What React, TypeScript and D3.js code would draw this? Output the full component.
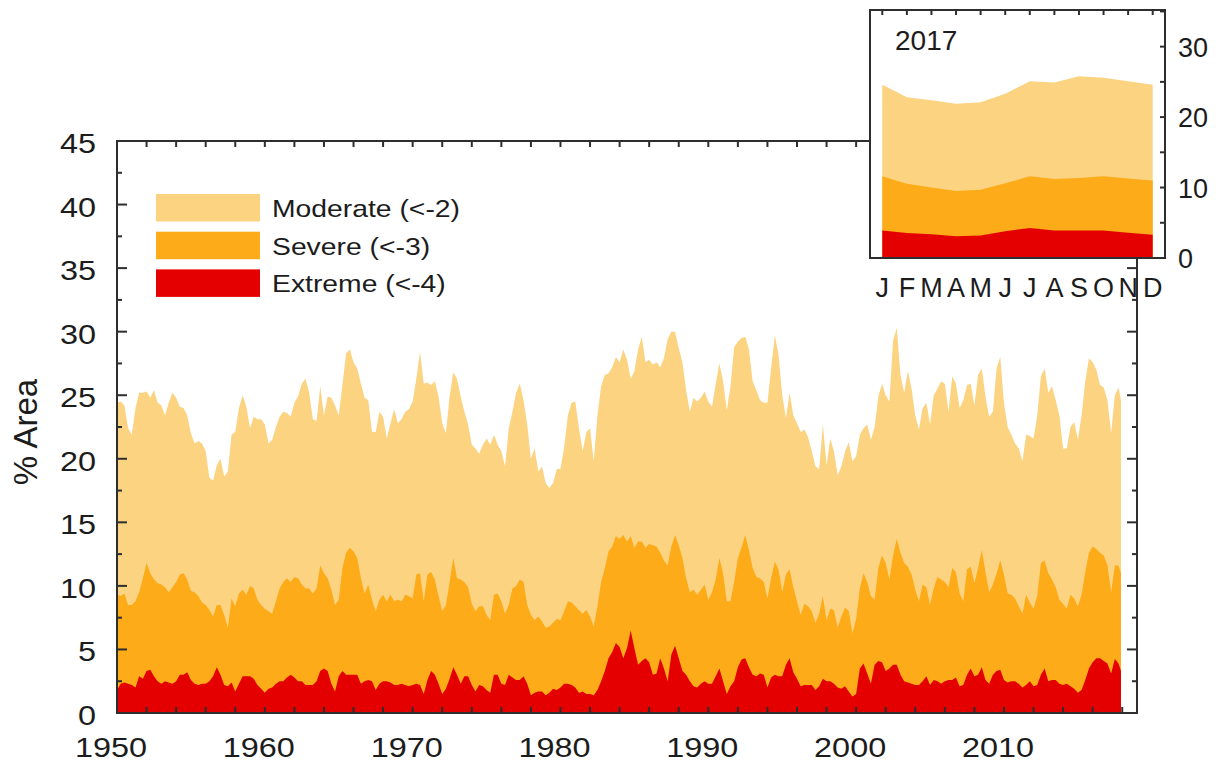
import React from "react";
import * as d3 from "d3";

// % area in drought, quarterly (Jan, Apr, Jul, Oct), 1950 - 2017
const moderate = [
  24.4, 24.5, 24.2, 22.4, 21.9, 24.0, 25.2, 25.2, 25.3, 24.8, 25.4, 24.4,
  24.2, 23.4, 24.4, 25.2, 24.8, 24.1, 24.0, 23.4, 22.0, 21.2, 21.4, 21.2,
  20.6, 18.5, 18.3, 19.5, 20.0, 18.6, 19.0, 21.9, 22.1, 24.0, 25.0, 24.1,
  22.4, 23.3, 23.1, 23.1, 22.7, 21.2, 21.5, 22.5, 23.3, 23.7, 23.6, 23.3,
  24.4, 24.9, 25.9, 26.3, 25.2, 23.1, 23.0, 25.7, 23.4, 24.9, 24.8, 24.2,
  23.4, 25.8, 28.3, 28.6, 27.6, 27.1, 25.9, 24.8, 24.6, 22.1, 22.1, 23.7,
  23.3, 21.6, 22.8, 23.9, 22.8, 23.1, 23.7, 23.9, 24.5, 26.3, 28.4, 25.9,
  26.0, 25.8, 26.1, 24.9, 22.8, 22.0, 24.9, 26.8, 26.3, 24.9, 23.7, 22.7,
  21.1, 20.8, 20.4, 21.1, 21.6, 21.1, 21.9, 21.1, 20.6, 19.4, 22.4, 23.7,
  25.2, 25.9, 24.6, 22.7, 20.0, 20.8, 19.0, 19.4, 18.1, 17.7, 18.1, 19.2,
  19.2, 20.9, 23.4, 24.4, 24.5, 22.4, 20.6, 22.1, 22.4, 19.8, 23.4, 25.7,
  26.6, 26.7, 27.2, 28.0, 27.6, 28.6, 27.8, 26.3, 26.9, 28.6, 29.6, 27.6,
  27.8, 27.4, 27.6, 27.2, 27.9, 29.4, 30.0, 30.0, 28.7, 27.6, 25.4, 23.7,
  24.8, 24.5, 24.8, 25.3, 24.5, 24.1, 25.9, 27.5, 26.1, 23.8, 25.7, 28.8,
  29.2, 29.5, 29.6, 28.6, 26.1, 25.4, 24.6, 24.4, 24.4, 27.1, 29.7, 28.2,
  25.0, 23.2, 25.2, 23.4, 22.8, 22.1, 22.3, 21.7, 20.6, 19.4, 19.2, 22.7,
  19.5, 21.6, 20.6, 18.7, 19.4, 20.6, 21.3, 19.8, 20.2, 21.9, 22.4, 22.7,
  21.5, 22.5, 24.9, 25.9, 25.0, 24.5, 29.3, 30.3, 26.6, 25.2, 26.9, 25.5,
  23.4, 22.3, 24.0, 24.4, 22.7, 25.0, 25.5, 26.1, 25.9, 23.7, 26.5, 25.9,
  24.0, 24.6, 25.8, 25.9, 24.2, 26.6, 27.1, 24.9, 23.3, 23.7, 27.1, 28.0,
  24.4, 22.5, 21.9, 21.2, 20.8, 19.8, 21.9, 21.8, 21.6, 23.4, 26.5, 27.1,
  25.2, 25.7, 24.6, 23.4, 20.8, 20.8, 22.5, 22.9, 21.5, 23.4, 26.1, 27.9,
  27.6, 27.0, 25.8, 25.6, 24.6, 22.0, 25.0, 25.6,
];

const severe = [
  9.3, 9.2, 9.4, 8.5, 8.5, 8.8, 9.5, 10.6, 11.8, 11.0, 10.5, 10.2,
  10.1, 9.9, 9.5, 9.9, 10.3, 10.9, 11.0, 10.5, 9.6, 9.5, 9.2, 8.7,
  8.5, 8.1, 7.6, 8.5, 8.5, 7.7, 6.7, 9.0, 8.4, 9.4, 9.7, 9.3,
  10.0, 9.8, 8.9, 8.5, 8.2, 8.0, 7.8, 8.8, 9.8, 10.3, 10.6, 10.3,
  10.7, 10.6, 10.1, 9.8, 9.8, 9.4, 9.8, 11.6, 11.0, 10.6, 9.7, 8.5,
  8.9, 11.4, 12.6, 13.0, 12.7, 12.2, 10.6, 9.4, 10.1, 8.9, 8.0, 8.9,
  9.3, 8.8, 9.3, 8.8, 8.9, 8.8, 9.3, 9.2, 9.0, 10.9, 11.0, 8.8,
  10.9, 11.1, 10.5, 9.2, 8.0, 8.5, 10.3, 12.2, 10.6, 10.5, 10.3, 9.9,
  8.6, 8.0, 8.4, 8.4, 7.7, 7.3, 9.3, 9.4, 8.8, 7.8, 8.5, 9.8,
  10.0, 10.5, 10.3, 8.5, 7.7, 7.3, 7.6, 7.2, 6.7, 6.8, 7.1, 7.4,
  7.3, 8.0, 8.8, 8.7, 8.4, 8.1, 7.8, 8.1, 7.6, 6.8, 8.4, 10.3,
  11.4, 12.7, 13.1, 13.9, 13.7, 14.0, 13.5, 13.9, 13.0, 13.5, 13.5, 13.0,
  13.3, 13.2, 13.1, 12.6, 12.0, 11.6, 13.1, 14.0, 13.2, 12.2, 10.6, 9.5,
  9.7, 9.3, 9.7, 10.1, 8.9, 9.5, 10.5, 12.2, 11.0, 8.8, 8.8, 10.3,
  12.2, 13.0, 14.0, 12.8, 11.4, 10.7, 10.6, 10.3, 9.0, 10.6, 11.9, 11.3,
  9.5, 10.9, 11.3, 9.9, 8.8, 7.7, 8.6, 8.4, 8.0, 7.1, 7.8, 9.2,
  7.3, 8.2, 8.1, 6.7, 7.6, 8.3, 8.0, 6.3, 7.4, 9.8, 11.0, 10.3,
  9.2, 8.9, 11.4, 12.4, 11.8, 10.5, 12.4, 13.7, 12.6, 11.8, 11.5, 10.9,
  9.7, 8.8, 10.1, 9.9, 8.5, 9.8, 10.7, 10.5, 10.3, 9.9, 11.4, 11.1,
  9.4, 8.8, 11.3, 11.5, 10.2, 11.4, 12.8, 11.1, 9.5, 10.1, 11.0, 12.0,
  10.9, 9.4, 9.3, 9.0, 8.4, 7.8, 9.3, 8.7, 8.2, 9.2, 11.8, 12.0,
  11.0, 10.5, 9.9, 8.9, 8.6, 8.2, 9.3, 9.0, 8.4, 9.3, 11.1, 12.6,
  13.1, 12.9, 12.6, 12.4, 11.6, 9.5, 11.6, 11.6,
];

const extreme = [
  1.8, 2.3, 2.4, 2.3, 2.2, 2.0, 2.9, 2.7, 3.3, 3.4, 2.9, 2.5,
  2.3, 2.5, 2.4, 2.3, 2.5, 3.0, 3.0, 3.2, 2.6, 2.3, 2.2, 2.3,
  2.3, 2.5, 2.9, 3.6, 3.0, 2.2, 2.1, 2.4, 1.7, 2.3, 2.9, 2.9,
  2.9, 2.7, 2.2, 1.9, 1.6, 1.9, 2.0, 2.3, 2.5, 2.5, 2.8, 3.0,
  2.8, 2.5, 2.5, 2.2, 2.2, 2.2, 2.5, 3.3, 3.5, 3.3, 2.3, 1.7,
  2.9, 3.3, 3.0, 3.0, 3.0, 3.0, 2.3, 2.5, 2.6, 2.5, 1.8, 2.3,
  2.5, 2.5, 2.4, 2.2, 2.2, 2.3, 2.2, 2.1, 2.2, 2.3, 2.2, 1.5,
  2.6, 3.3, 3.0, 2.3, 1.5, 1.9, 2.7, 3.6, 3.0, 2.3, 2.9, 2.9,
  2.2, 1.7, 2.2, 2.1, 1.8, 1.6, 3.0, 3.0, 2.3, 2.2, 3.0, 2.8,
  2.6, 2.6, 2.9, 2.3, 1.4, 1.6, 1.7, 1.7, 1.4, 1.6, 1.9, 1.8,
  2.0, 2.3, 2.3, 2.2, 2.0, 1.6, 1.7, 1.5, 1.5, 1.4, 1.8, 2.5,
  3.3, 4.3, 4.8, 5.5, 5.2, 4.3, 5.1, 6.5, 5.1, 3.8, 4.1, 4.3,
  4.0, 3.0, 3.1, 4.3, 3.5, 2.5, 4.6, 5.3, 4.3, 3.3, 3.0, 2.5,
  2.1, 2.0, 2.3, 2.5, 2.3, 2.3, 2.9, 3.5, 2.5, 1.5, 2.1, 2.5,
  3.6, 4.2, 4.3, 3.6, 3.0, 2.9, 3.1, 3.0, 2.0, 2.8, 3.0, 2.9,
  2.9, 3.8, 4.3, 3.2, 2.7, 2.1, 2.2, 2.2, 2.2, 1.8, 2.1, 2.7,
  2.5, 2.5, 2.3, 2.0, 1.9, 2.1, 1.7, 1.3, 1.5, 3.5, 3.9, 3.1,
  2.3, 3.8, 4.1, 4.0, 3.3, 3.5, 3.8, 3.8, 3.0, 2.5, 2.4, 2.3,
  2.2, 2.2, 2.5, 2.9, 2.2, 2.6, 2.5, 2.3, 2.5, 2.6, 2.6, 2.8,
  2.1, 2.2, 3.0, 3.5, 2.9, 3.0, 3.6, 2.6, 2.3, 3.0, 3.3, 3.4,
  2.6, 2.4, 2.5, 2.5, 2.3, 2.0, 2.2, 2.5, 2.1, 2.2, 3.0, 3.5,
  2.5, 2.6, 2.6, 2.3, 2.2, 2.3, 2.1, 1.9, 1.6, 1.8, 2.6, 3.5,
  4.0, 4.3, 4.3, 4.1, 3.9, 3.1, 4.25, 3.9,
];

// 2017 monthly (inset)
const months = ["J", "F", "M", "A", "M", "J", "J", "A", "S", "O", "N", "D"];
const insetModerate = [24.6, 22.8, 22.4, 21.9, 22.1, 23.3, 25.1, 24.9, 25.8, 25.6, 25.1, 24.6];
const insetSevere = [11.6, 10.55, 10.0, 9.5, 9.7, 10.6, 11.6, 11.2, 11.35, 11.6, 11.3, 11.0];
const insetExtreme = [3.9, 3.55, 3.36, 3.1, 3.2, 3.8, 4.25, 3.9, 3.9, 3.9, 3.6, 3.3];

const legendLabels = ["Moderate (<-2)", "Severe (<-3)", "Extreme (<-4)"];
const colors = ["#fbd381", "#fdab19", "#e50000"];
const xLabels = [1950, 1960, 1970, 1980, 1990, 2000, 2010];

const FONT = "'Liberation Sans', Arial, Helvetica, sans-serif";
const INK = "#1c1c1c";
const AXIS = "#2e2e2e";

const Txt = ({ x, y, size, sx = 1, anchor = "start", children }: any) => (
  <text
    transform={`translate(${x},${y}) scale(${sx},1)`}
    textAnchor={anchor}
    fontSize={size}
    fontFamily={FONT}
    fill={INK}
  >
    {children}
  </text>
);

export default function App() {
  const x = d3.scaleLinear().domain([1950, 2019]).range([117, 1137]);
  const y = d3.scaleLinear().domain([0, 45]).range([713, 141]);

  // quarterly samples + the December 2017 end point
  const toSeries = (vals: number[], dec: number) => [
    ...vals.map((v, i) => [1950 + i / 4, v]),
    [2017 + 11 / 12, dec],
  ];
  const mainSeries = [
    toSeries(moderate, insetModerate[11]),
    toSeries(severe, insetSevere[11]),
    toSeries(extreme, insetExtreme[11]),
  ];
  const area = d3
    .area<number[]>()
    .x((d) => x(d[0]))
    .y0(y(0))
    .y1((d) => y(d[1]));

  const yTicks = d3.range(0, 45.01, 2.5);
  const xTicks = d3.range(1950, 2019, 2);

  // inset
  const ix = d3.scaleLinear().domain([0.5, 12.5]).range([870, 1165]);
  const iy = d3.scaleLinear().domain([0, 35.2]).range([258, 10]);
  const insetSeries = [insetModerate, insetSevere, insetExtreme];
  const iarea = d3
    .area<number>()
    .x((_, i) => ix(i + 1))
    .y0(iy(0))
    .y1((d) => iy(d));

  return (
    <div style={{ position: "absolute", left: 0, top: 0 }}>
      <svg width={1222} height={769} style={{ display: "block", background: "#fff" }}>
        {/* main areas */}
        {mainSeries.map((s, i) => (
          <path key={i} d={area(s as any) || ""} fill={colors[i]} />
        ))}

        {/* y ticks left & right */}
        {yTicks.map((t) => {
          const len = t % 5 === 0 ? 10 : 5;
          return (
            <g key={"y" + t} stroke={AXIS} strokeWidth={2}>
              <line x1={117} x2={117 + len} y1={y(t)} y2={y(t)} />
              <line x1={1137} x2={1137 - len} y1={y(t)} y2={y(t)} />
            </g>
          );
        })}
        {/* x ticks bottom & top */}
        {xTicks.map((t) => (
          <g key={"x" + t} stroke={AXIS} strokeWidth={2}>
            <line x1={x(t)} x2={x(t)} y1={713} y2={707} />
            <line x1={x(t)} x2={x(t)} y1={141} y2={147} />
          </g>
        ))}
        <rect x={117} y={141} width={1020} height={572} fill="none" stroke={AXIS} strokeWidth={2} />

        {/* y tick labels */}
        {d3.range(0, 46, 5).map((t) => (
          <Txt key={"yl" + t} x={96} y={y(t) + 12} size={27} sx={1.2} anchor="end">
            {t}
          </Txt>
        ))}
        {/* x tick labels */}
        {xLabels.map((t) => (
          <Txt key={"xl" + t} x={x(t) - 6} y={757} size={27} sx={1.2} anchor="middle">
            {t}
          </Txt>
        ))}
        <text
          transform="translate(37,432) rotate(-90)"
          textAnchor="middle"
          fontSize={33}
          fontFamily={FONT}
          fill={INK}
        >
          % Area
        </text>

        {/* legend */}
        {legendLabels.map((l, i) => {
          const top = 194 + i * 37.7;
          return (
            <g key={l}>
              <rect x={156} y={top} width={104} height={27.5} fill={colors[i]} />
              <Txt x={272} y={top + 23} size={24} sx={1.18}>
                {l}
              </Txt>
            </g>
          );
        })}

        {/* inset */}
        <rect x={870} y={10} width={295} height={248} fill="#fff" />
        {insetSeries.map((s, i) => (
          <path key={"i" + i} d={iarea(s) || ""} fill={colors[i]} />
        ))}
        {d3.range(0, 35.1, 5).map((t) => (
          <line key={"iy" + t} x1={1165} x2={1160} y1={iy(t)} y2={iy(t)} stroke={AXIS} strokeWidth={2} />
        ))}
        {months.map((m, i) => (
          <line key={"it" + i} x1={ix(i + 1)} x2={ix(i + 1)} y1={10} y2={15} stroke={AXIS} strokeWidth={2} />
        ))}
        <rect x={870} y={10} width={295} height={248} fill="none" stroke={AXIS} strokeWidth={2} />
        {[0, 10, 20, 30].map((t) => (
          <Txt key={"iyl" + t} x={1178} y={iy(t) + 10} size={27}>
            {t}
          </Txt>
        ))}
        {months.map((m, i) => (
          <Txt key={"im" + i} x={ix(i + 1)} y={297} size={27} anchor="middle">
            {m}
          </Txt>
        ))}
        <Txt x={895} y={50} size={28}>
          2017
        </Txt>
        {/* main right axis visible below inset */}
        <line x1={1137} x2={1137} y1={258} y2={300} stroke={AXIS} strokeWidth={2} />
      </svg>
    </div>
  );
}
